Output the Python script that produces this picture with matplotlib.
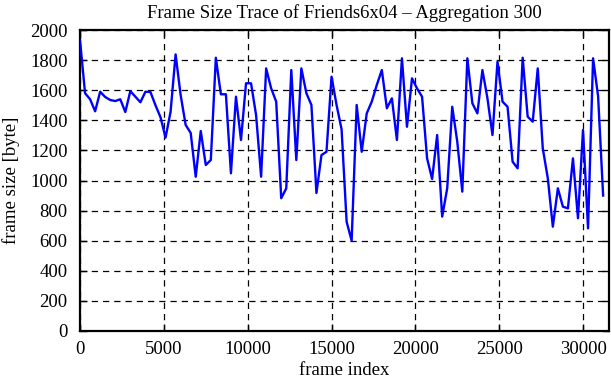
import matplotlib
matplotlib.use("Agg")
import matplotlib.pyplot as plt
import numpy as np

# aggregated frame sizes, one value per 300 frames
FRAME_STEP = 300
frame_sizes = [
    1930, 1580, 1540, 1460, 1590, 1555, 1535, 1528, 1540, 1455,
    1594, 1557, 1520, 1590, 1588, 1500, 1420, 1285, 1457, 1838,
    1568, 1369, 1316, 1025, 1329, 1103, 1136, 1816, 1573, 1573,
    1048, 1557, 1269, 1646, 1646, 1435, 1025, 1745, 1612, 1524,
    882, 948, 1734, 1136, 1745, 1580, 1502, 917, 1169, 1191,
    1690, 1502, 1340, 726, 600, 1502, 1191, 1446, 1524, 1635,
    1734, 1480, 1546, 1269, 1812, 1357, 1679, 1612, 1557, 1147,
    1010, 1302, 760, 948, 1490, 1258, 926, 1812, 1513, 1446,
    1734, 1546, 1302, 1790, 1524, 1490, 1125, 1081, 1816, 1424,
    1391, 1745, 1214, 1015, 693, 948, 826, 815, 1147, 749,
    1336, 682, 1812, 1560, 900,
]
frame_index = np.arange(len(frame_sizes)) * FRAME_STEP

x_ticks = [0, 5000, 10000, 15000, 20000, 25000, 30000]
y_ticks = list(range(0, 2001, 200))

plt.rcParams["font.family"] = ["Liberation Serif", "DejaVu Serif"]
FS = 13.5

fig = plt.figure(figsize=(6.11, 3.80), dpi=100)
ax = fig.add_axes([0.131, 0.129, 0.866, 0.792])

ax.plot(frame_index, frame_sizes, color="#0000ff", linewidth=1.7, zorder=3)

ax.set_xlim(0, 31560)
ax.set_ylim(0, 2000)
ax.set_xticks(x_ticks)
ax.set_yticks(y_ticks)
ax.tick_params(axis="x", pad=7)
ax.tick_params(axis="y", pad=9)
ax.tick_params(direction="in", length=5, width=1, top=True, right=True,
               labelsize=FS)

ax.grid(True, color="black", linestyle=(0, (5, 4)), linewidth=0.9)
for s in ax.spines.values():
    s.set_linewidth(1.6)

ax.set_title("Frame Size Trace of Friends6x04 \u2013 Aggregation 300",
             fontsize=FS, pad=9)
ax.set_xlabel("frame index", fontsize=FS, labelpad=3)
ax.set_ylabel("frame size [byte]", fontsize=FS, labelpad=7)

fig.savefig("out.png", dpi=100)
